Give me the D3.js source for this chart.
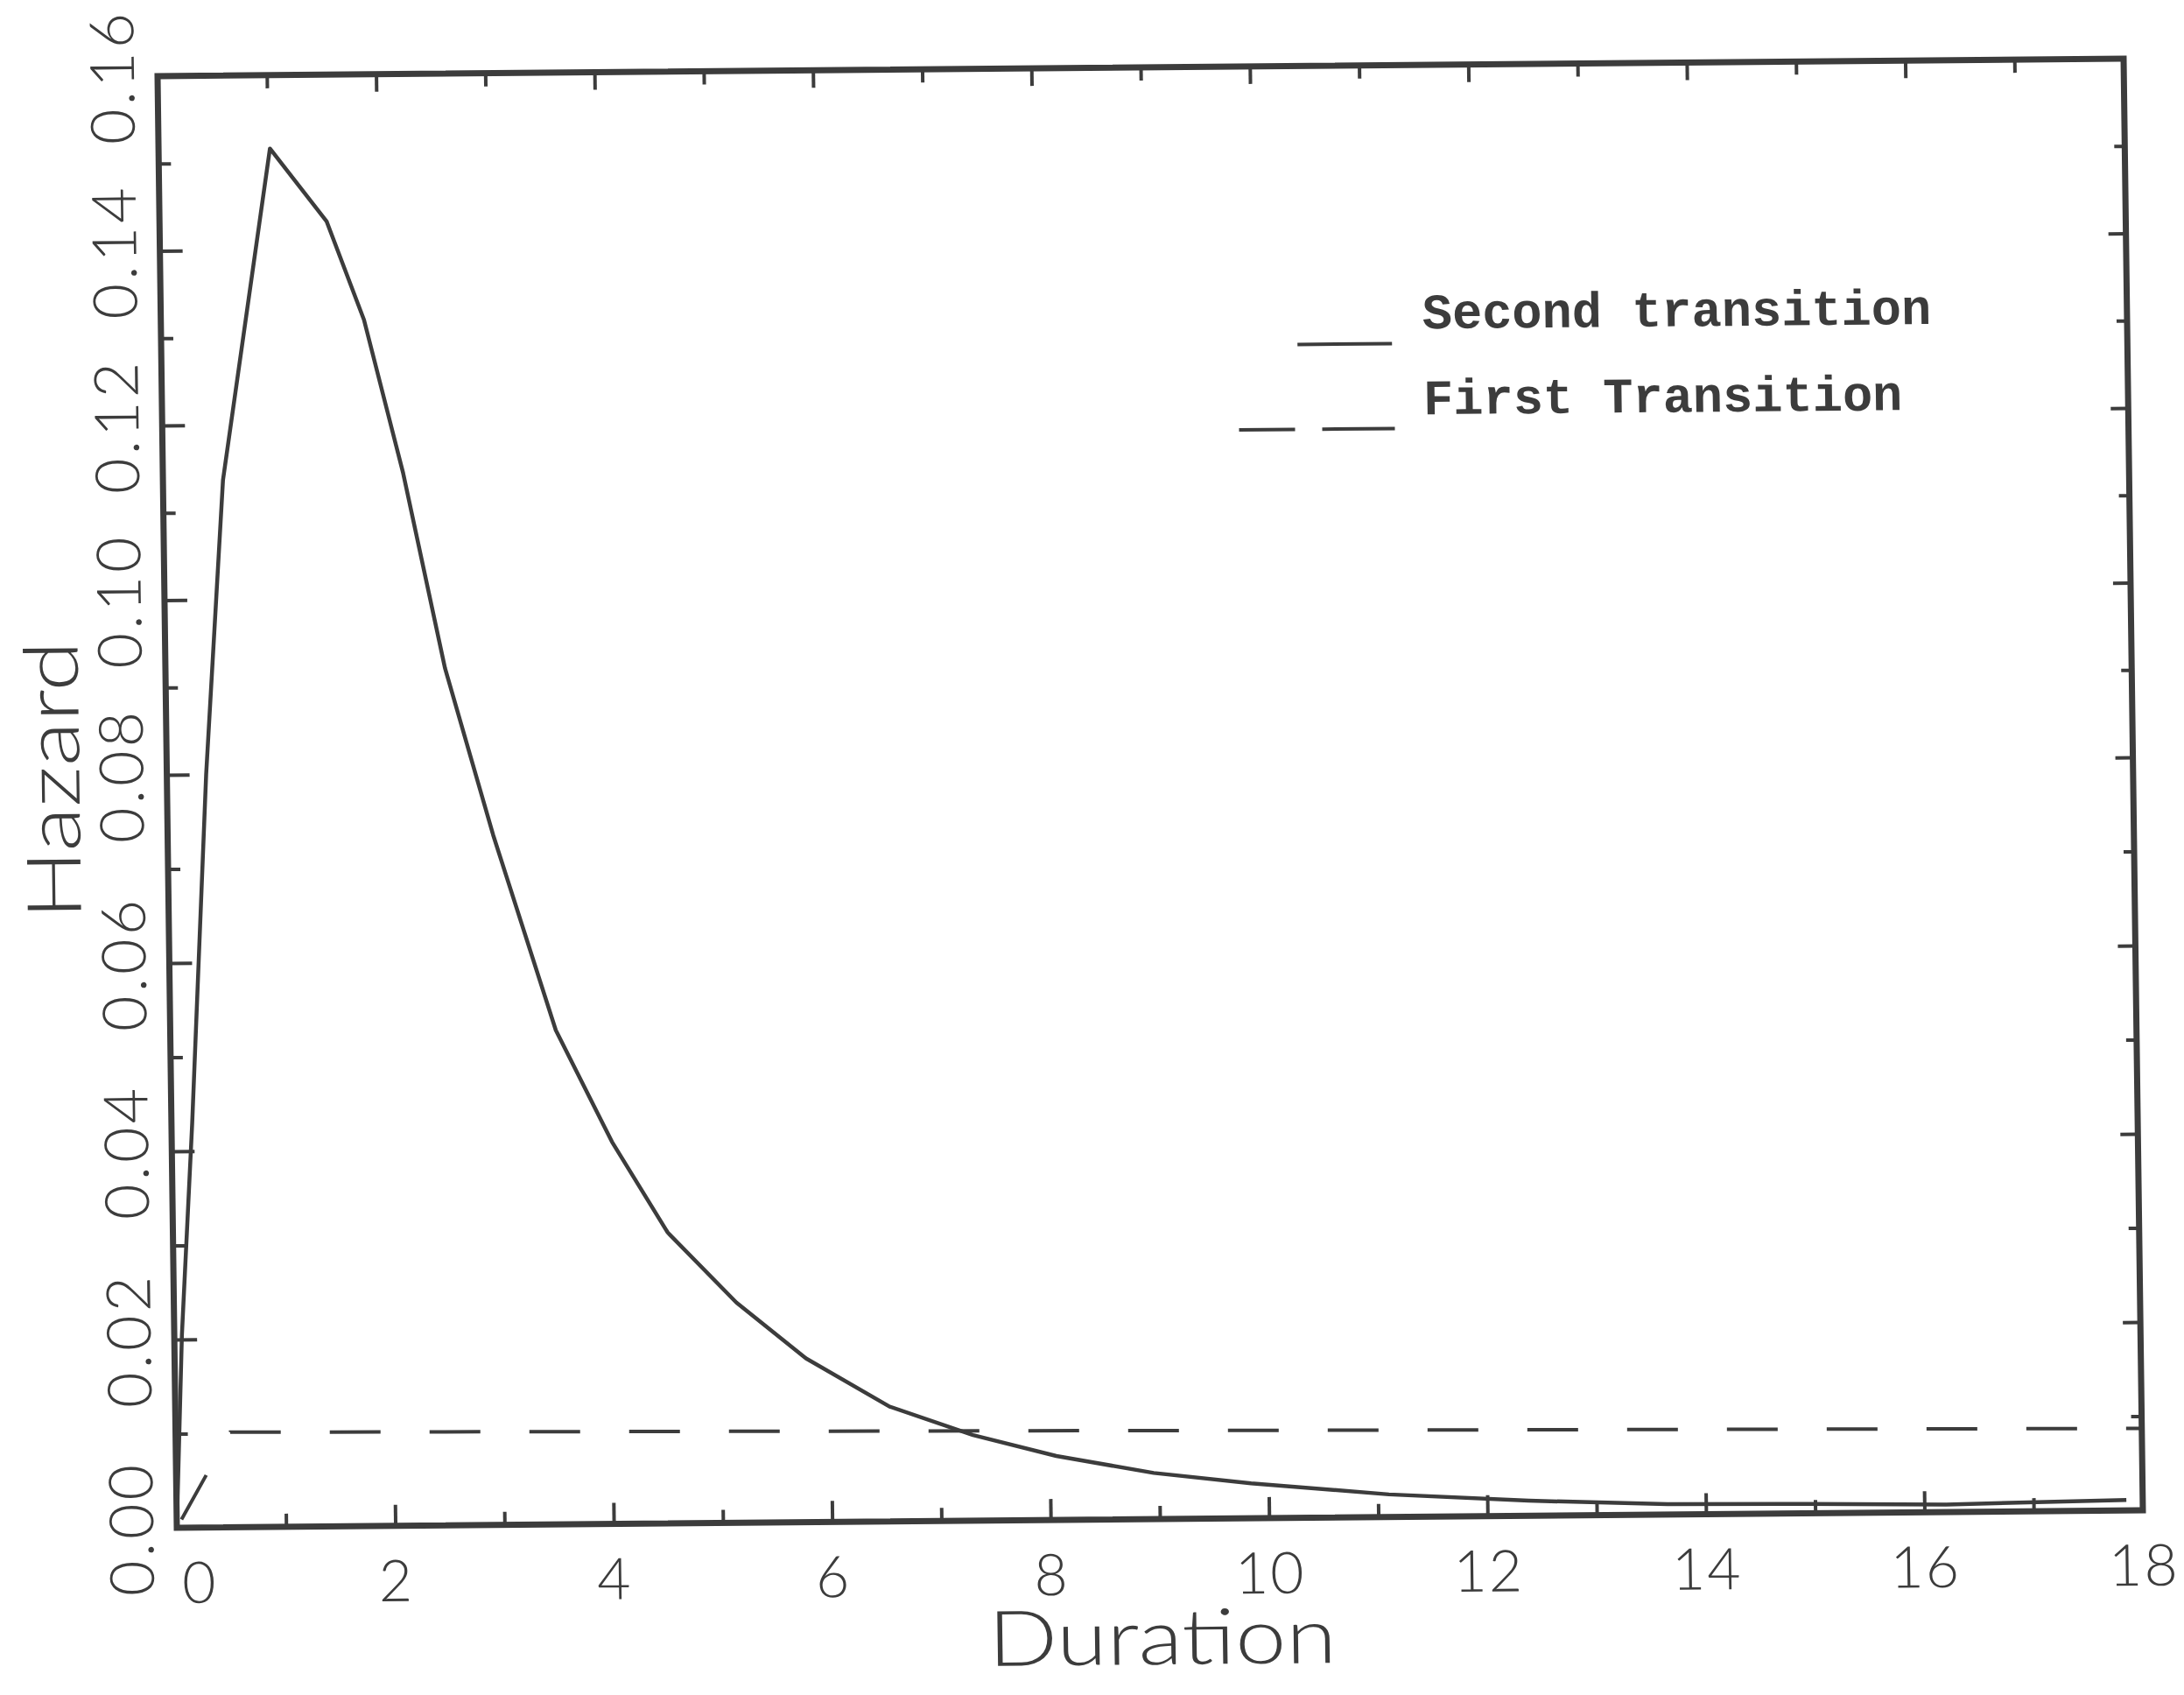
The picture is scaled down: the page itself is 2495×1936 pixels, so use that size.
<!DOCTYPE html>
<html>
<head>
<meta charset="utf-8">
<script src="https://cdn.jsdelivr.net/npm/d3@7"></script>
<style>
  body { margin: 0; background: #fff; }
  svg { display: block; }
</style>
</head>
<body>
<div id="chart"></div>
<script>
// Values
const secondX = [0, 0.07, 0.19, 0.36, 0.55, 1.02, 1.53, 1.86, 2.20, 2.56, 2.98, 3.53, 4.03, 4.53,
                 5.15, 5.78, 6.54, 7.30, 8.06, 8.95, 9.84, 11.1, 12.38, 13.65, 14.92, 16.2, 17.85];
const secondY = [0, 0.0205, 0.043, 0.080, 0.1137, 0.1516, 0.1432, 0.1319, 0.1143, 0.0919, 0.0733,
                 0.0525, 0.0406, 0.0309, 0.0234, 0.0174, 0.0122, 0.0091, 0.0068, 0.0049, 0.0037,
                 0.0024, 0.0016, 0.0011, 0.0010, 0.0008, 0.0011];
const firstX = [0, 0.5, 9, 18];
const firstY = [0, 0.0101, 0.0094, 0.0087];
const seriesNames = ["Second transition", "First Transition"];
const xTicks = d3.range(0, 19);
const yTicks = d3.range(0, 17).map(i => i / 100);

const ink = "#3c3c3c";
const totalW = 2495, totalH = 1936;
const origin = {x: 202, y: 1745};   // bottom-left corner of the frame
const plotW = 2246, plotH = 1658;
// the scan is slightly skewed: small rotation/shear of the whole plot
const skew = {bx: -0.0089, cy: 0.01327};

const tickFont = "Lato, 'Open Sans', sans-serif";

const svg = d3.select("#chart")
  .append("svg")
    .attr("width", totalW)
    .attr("height", totalH);

svg.append("rect").attr("width", totalW).attr("height", totalH).attr("fill", "#fff");

const g = svg.append("g")
  .attr("transform", `matrix(1,${skew.bx},${skew.cy},1,${origin.x},${origin.y}) translate(0,${-plotH})`);

const x = d3.scaleLinear().domain([0, 18]).range([0, plotW]);
// the scan stretches a little towards the bottom, so the y scale has a middle stop
const y = d3.scaleLinear().domain([0, 0.08, 0.16]).range([plotH, plotH - 860, 0]);

const isMajorY = d => Math.round(d * 100) % 2 === 0;
const isMajorX = d => d % 2 === 0;

// bottom axis
g.append("g")
  .attr("transform", `translate(0,${plotH})`)
  .attr("color", ink)
  .call(d3.axisBottom(x).tickValues(xTicks).tickSizeInner(-24).tickSizeOuter(0)
    .tickFormat(d => isMajorX(d) ? d : ""))
  .call(a => a.select(".domain").remove())
  .call(a => a.selectAll(".tick line")
    .attr("y2", d => isMajorX(d) ? -24 : -15)
    .attr("stroke-width", 4))
  .call(a => a.selectAll(".tick text")
    .attr("y", 86)
    .attr("dy", null)
    .attr("dx", d => d === 0 ? 25 : 0)
    .attr("font-family", tickFont)
    .attr("font-weight", 300)
    .attr("font-size", 66)
    .attr("letter-spacing", 2));

// top axis, ticks only
g.append("g")
  .attr("color", ink)
  .call(d3.axisTop(x).tickValues(xTicks).tickSizeOuter(0).tickFormat(""))
  .call(a => a.select(".domain").remove())
  .call(a => a.selectAll(".tick line")
    .attr("y2", d => isMajorX(d) ? 20 : 15)
    .attr("stroke-width", 4));

// left axis
g.append("g")
  .attr("color", ink)
  .call(d3.axisLeft(y).tickValues(yTicks).tickSizeInner(-26).tickSizeOuter(0)
    .tickFormat(d => isMajorY(d) ? d3.format(".2f")(d) : ""))
  .call(a => a.select(".domain").remove())
  .call(a => a.selectAll(".tick line")
    .attr("x2", d => isMajorY(d) ? 26 : 14)
    .attr("stroke-width", 4))
  .call(a => a.selectAll(".tick text")
    .attr("x", null)
    .attr("dy", null)
    .attr("text-anchor", "middle")
    .attr("transform", "translate(-27,0) rotate(-90)")
    .attr("font-family", tickFont)
    .attr("font-weight", 300)
    .attr("font-size", 70)
    .attr("letter-spacing", 4));

// right axis, ticks only
g.append("g")
  .attr("transform", `translate(${plotW},0)`)
  .attr("color", ink)
  .call(d3.axisRight(y).tickValues(yTicks).tickSizeOuter(0).tickFormat(""))
  .call(a => a.select(".domain").remove())
  .call(a => a.selectAll(".tick line")
    .attr("x2", d => isMajorY(d) ? -20 : -12)
    .attr("stroke-width", 4));

// frame
g.append("rect")
  .attr("width", plotW)
  .attr("height", plotH)
  .attr("fill", "none")
  .attr("stroke", ink)
  .attr("stroke-width", 7);

const line = d3.line().x(d => x(d[0])).y(d => y(d[1]));

g.append("path")
  .datum(d3.zip(firstX, firstY))
  .attr("d", line)
  .attr("fill", "none")
  .attr("stroke", ink)
  .attr("stroke-width", 4)
  .attr("stroke-dasharray", "58,56")
  .attr("stroke-dashoffset", 103);

g.append("path")
  .datum(d3.zip(secondX, secondY))
  .attr("d", line)
  .attr("fill", "none")
  .attr("stroke", ink)
  .attr("stroke-width", 4.5)
  .attr("stroke-linejoin", "round");

// axis titles
g.append("text")
  .attr("transform", `translate(-100,803) rotate(-90)`)
  .attr("text-anchor", "middle")
  .attr("font-family", tickFont)
  .attr("font-weight", 300)
  .attr("font-size", 86)
  .attr("fill", ink)
  .attr("textLength", 318)
  .attr("lengthAdjust", "spacingAndGlyphs")
  .text("Hazard");

g.append("text")
  .attr("x", 1124)
  .attr("y", plotH + 166)
  .attr("text-anchor", "middle")
  .attr("font-family", tickFont)
  .attr("font-weight", 300)
  .attr("font-size", 88)
  .attr("fill", ink)
  .attr("textLength", 398)
  .attr("lengthAdjust", "spacingAndGlyphs")
  .text("Duration");

// legend
const legendItems = [
  {name: seriesNames[0], x1: 1298, x2: 1406, ly: 318, ty: 301, dash: null},
  {name: seriesNames[1], x1: 1230, x2: 1408, ly: 415, ty: 399, dash: "64,31,83,31"}
];
const legend = g.append("g");
legend.selectAll("line")
  .data(legendItems)
  .join("line")
    .attr("x1", d => d.x1)
    .attr("x2", d => d.x2)
    .attr("y1", d => d.ly)
    .attr("y2", d => d.ly)
    .attr("stroke", ink)
    .attr("stroke-width", 4)
    .attr("stroke-dasharray", d => d.dash);
legend.selectAll("text")
  .data(legendItems)
  .join("text")
    .attr("x", 1441)
    .attr("y", d => d.ty)
    .attr("font-family", "'Liberation Mono', 'DejaVu Sans Mono', monospace")
    .attr("font-weight", "bold")
    .attr("font-size", 57)
    .attr("fill", ink)
    .text(d => d.name);
</script>
</body>
</html>
